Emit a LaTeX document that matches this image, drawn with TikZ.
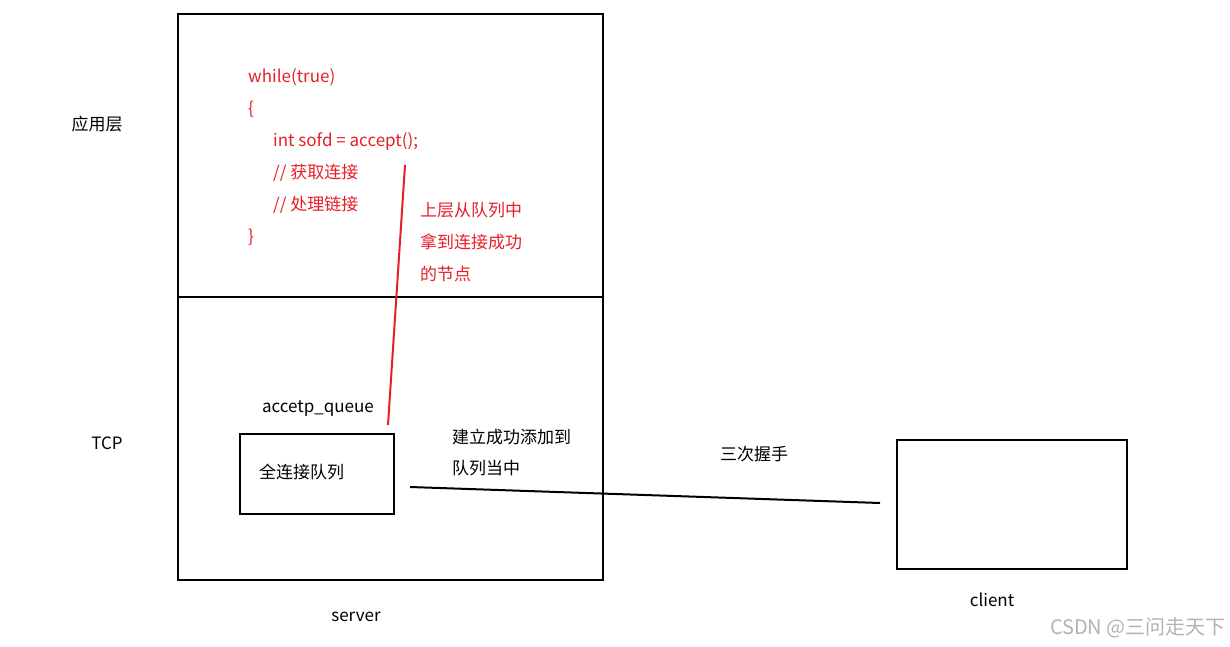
\documentclass[tikz,border=0pt]{standalone}
\usepackage{fontspec}
\setmainfont{Noto Sans CJK SC}
\usetikzlibrary{positioning}
\definecolor{codered}{RGB}{230,30,40}
\tikzset{
    x=1pt, y=-1pt,
    box/.style = {draw, line width=2pt},
    label/.style = {font=\fontsize{17}{19}\selectfont, inner sep=0pt},
    code/.style = {label, text=codered, anchor=west},
    >=latex,
}
\begin{document}
\begin{tikzpicture}
    \useasboundingbox (0,0) rectangle (1230,647);
    % server and client
    \draw[box] (178,14) coordinate (srvtl) rectangle (603,580) coordinate (srvbr);
    \coordinate (divl) at (178,297);
    \coordinate (divr) at (603,297);
    \draw[line width=2pt] (divl) -- (divr);
    \node[box, minimum width=154pt, minimum height=80pt, anchor=north west] (queue) at (239,433) {};
    \node[box, minimum width=230pt, minimum height=129pt, anchor=north west] (client) at (896,439) {};

    % layer labels
    \node[label] (app) at (97,124) {应用层};
    \node[label] (tcp) at (107,443) {TCP};
    \node[label] (server) at (356,617) {server};
    \node[label] (clientlbl) at (992,600) {client};

    % code
    \node[code] (l1) at (248,77) {while(true)};
    \node[code] (l2) at (248,109) {\{};
    \node[code] (l3) at (273,141) {int sofd = accept();};
    \node[code] (l4) at (273,173) {// 获取连接};
    \node[code] (l5) at (273,205) {// 处理链接};
    \node[code] (l6) at (248,237) {\}};
    \node[code] (up1) at (420,210) {上层从队列中};
    \node[code] (up2) at (420,242) {拿到连接成功};
    \node[code] (up3) at (420,274) {的节点};

    % queue texts
    \node[label] (qname) at (318,409) {accetp\_queue};
    \node[label, anchor=west] (qtext) at (259,472) {全连接队列};
    \node[label, anchor=west] (add1) at (452,437) {建立成功添加到};
    \node[label, anchor=west] (add2) at (452,468) {队列当中};
    \node[label] (shake) at (754,454) {三次握手};

    % connectors
    \coordinate (acc) at (405,165);
    \coordinate (qtop) at (388,425);
    \draw[codered, line width=2pt] (acc) -- (qtop);
    \coordinate (qr) at (410,487);
    \coordinate (cl) at (880,503);
    \draw[line width=2pt] (qr) -- (cl);

    \node[label, text=gray!60, font=\fontsize{20}{22}\selectfont, anchor=east] (mark) at (1226,628) {CSDN @三问走天下};
\end{tikzpicture}
\end{document}
